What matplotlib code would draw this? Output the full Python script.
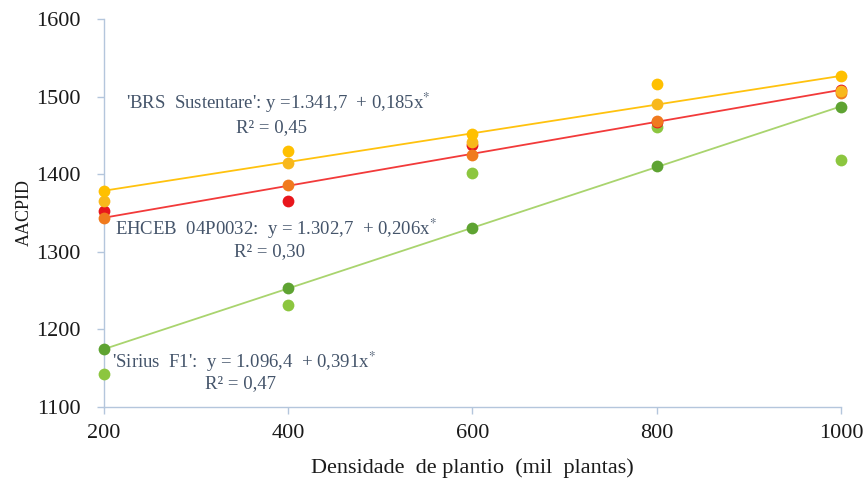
import numpy as np
import matplotlib
matplotlib.use("Agg")
import matplotlib.pyplot as plt

# densidade de plantio (mil plantas)
densidade = [200, 400, 600, 800, 1000]

# AACPID observada (duas series por cultivar)
brs_a = [1378, 1430, 1452, 1516, 1526]
brs_b = [1365, 1415, 1442, 1490, 1507]
ehceb_a = [1352, 1365, 1438, 1467, 1508]
ehceb_b = [1344, 1386, 1425, 1469, 1505]
sirius_a = [1175, 1253, 1331, 1410, 1487]
sirius_b = [1142, 1232, 1401, 1461, 1418]

# coeficientes das regressoes (a, b)
coef_brs = (1341.7, 0.185)
coef_ehceb = (1302.7, 0.206)
coef_sirius = (1096.4, 0.391)

plt.rcParams['font.family'] = ['Liberation Serif', 'DejaVu Serif']
plt.rcParams['mathtext.fontset'] = 'stix'

fig = plt.figure(figsize=(8.68, 4.82), dpi=100)
ax = fig.add_axes([0.1198, 0.1556, 0.8491, 0.805])

spine_c = '#B4C6DC'
txt_c = '#44546A'
x = np.array(densidade)

# retas de regressao
for (a, b), col in [(coef_sirius, '#A9D46E'), (coef_ehceb, '#F23A3A'), (coef_brs, '#FFC20E')]:
    ax.plot(x, a + b * x, color=col, lw=1.3, zorder=2)

ms = 72
series = [(sirius_b, '#8CC63F'), (sirius_a, '#5EA332'), (ehceb_a, '#E8161C'),
          (ehceb_b, '#F07A1E'), (brs_b, '#F8B81C'), (brs_a, '#FFC000')]
for vals, col in series:
    ax.scatter(densidade, vals, s=ms, color=col, zorder=3, lw=0, clip_on=False)

ax.set_xlim(200, 1000)
ax.set_ylim(1100, 1600)
ax.set_xticks(densidade)
ax.set_yticks(range(1100, 1601, 100))
for s in ['top', 'right']:
    ax.spines[s].set_visible(False)
for s in ['left', 'bottom']:
    ax.spines[s].set_color(spine_c)
    ax.spines[s].set_linewidth(1.0)
ax.tick_params(colors=spine_c, labelcolor='#1a1a1a', labelsize=16, length=5, width=1.0)
ax.tick_params(axis='x', pad=7)
ax.tick_params(axis='y', pad=12)

ax.set_xlabel("Densidade  de plantio  (mil  plantas)", fontsize=16, color='#1a1a1a', labelpad=11)
ax.set_ylabel("AACPID", fontsize=13, color='#1a1a1a', labelpad=2)

fs = 13.5
def place(px, py, s, ha='left'):
    fig.text(px / 868, 1 - py / 482, s, fontsize=fs, color=txt_c, ha=ha, va='center')

place(126, 103, "'BRS  Sustentare': y =1.341,7  + 0,185x$^{*}$")
place(272, 128, "R² = 0,45", ha='center')
place(115, 229, "EHCEB  04P0032:  y = 1.302,7  + 0,206x$^{*}$")
place(270, 252, "R² = 0,30", ha='center')
place(112, 362, "'Sirius  F1':  y = 1.096,4  + 0,391x$^{*}$")
place(240, 384, "R² = 0,47", ha='center')

fig.savefig("out.png", dpi=100)
